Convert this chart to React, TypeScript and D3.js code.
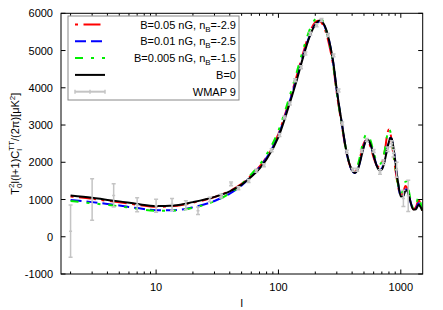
import React from 'react';
import * as d3 from 'd3';

// multipole grid shared by the model curves
const ells = [2, 3, 4, 5, 7, 10, 14, 20, 30, 40, 50, 60, 70, 80, 100, 120, 140, 160, 180, 200, 210, 220, 230, 240, 260, 280, 300, 330, 360, 400, 420, 450, 480, 500, 520, 540, 570, 600, 640, 670, 700, 740, 780, 800, 820, 840, 870, 900, 950, 1000, 1050, 1090, 1120, 1160, 1200, 1270, 1330, 1400, 1450, 1500];

const clB005 = [1080, 1020, 965, 925, 860, 805, 825, 915, 1065, 1230, 1420, 1650, 1880, 2140, 2760, 3550, 4280, 4960, 5480, 5760, 5800, 5780, 5700, 5560, 5150, 4600, 3850, 2980, 2250, 1790, 1740, 1920, 2320, 2520, 2590, 2560, 2380, 2120, 1900, 1880, 1960, 2300, 2800, 2880, 2800, 2600, 2200, 1850, 1350, 1120, 1200, 1360, 1330, 1150, 940, 740, 800, 980, 880, 700];
const clB001 = [990, 930, 880, 840, 770, 715, 715, 790, 960, 1160, 1380, 1620, 1860, 2120, 2730, 3500, 4220, 4890, 5400, 5700, 5760, 5790, 5750, 5630, 5250, 4680, 3920, 3030, 2270, 1770, 1715, 1860, 2220, 2450, 2590, 2610, 2460, 2190, 1890, 1800, 1830, 2080, 2430, 2580, 2660, 2630, 2380, 2030, 1440, 1090, 1110, 1270, 1270, 1130, 940, 730, 760, 900, 820, 720];
const clB0005 = [960, 900, 855, 820, 750, 700, 705, 780, 955, 1170, 1410, 1680, 1930, 2210, 2850, 3640, 4380, 5050, 5560, 5840, 5890, 5880, 5800, 5650, 5220, 4640, 3870, 3000, 2280, 1820, 1780, 1980, 2400, 2620, 2740, 2720, 2550, 2260, 2010, 1950, 2010, 2330, 2780, 2890, 2830, 2650, 2260, 1900, 1400, 1170, 1270, 1480, 1480, 1260, 1000, 760, 850, 1070, 920, 640];
const clB0 = [1110, 1050, 990, 950, 880, 825, 840, 930, 1070, 1220, 1400, 1610, 1830, 2080, 2680, 3450, 4170, 4850, 5380, 5700, 5780, 5810, 5760, 5650, 5260, 4700, 3930, 3040, 2280, 1780, 1715, 1850, 2200, 2430, 2580, 2600, 2450, 2180, 1880, 1790, 1810, 2050, 2400, 2550, 2650, 2640, 2400, 2050, 1450, 1080, 1090, 1240, 1250, 1120, 940, 730, 740, 860, 800, 700];

// WMAP 9 binned points
const wmapL = [2, 3, 4.5, 7, 10, 13.5, 17.5, 22, 27.5, 34, 41, 47, 57, 66, 76, 88, 102, 112, 124, 137, 153, 166, 182, 205, 225, 254, 282, 310, 332, 362, 405, 440, 480, 527, 600, 676, 720, 780, 843, 871, 925, 1050, 1150];
const wmapD = [150, 1000, 1110, 860, 830, 870, 850, 700, 1000, 1090, 1420, 1300, 1500, 1770, 1920, 2320, 2730, 3200, 3580, 4200, 4550, 4920, 5450, 5680, 5820, 5420, 4870, 3930, 3040, 2280, 1800, 1800, 2300, 2600, 2300, 1740, 2000, 2350, 2500, 2240, 1800, 1030, 1100];
const wmapErr = [700, 560, 310, 190, 175, 155, 115, 100, 60, 50, 50, 40, 40, 40, 40, 40, 40, 40, 40, 40, 40, 40, 40, 40, 40, 40, 40, 40, 40, 40, 40, 40, 40, 40, 40, 60, 60, 60, 80, 100, 200, 220, 420];

const yTicks = [-1000, 0, 1000, 2000, 3000, 4000, 5000, 6000];
const xTickLabels = [10, 100, 1000];

const series = [
  { name: 'B=0.05 nG, n', sub: 'B', rest: '=-2.9', values: clB005, color: '#ff0000', dash: '3,5.5,17,5.5' },
  { name: 'B=0.01 nG, n', sub: 'B', rest: '=-2.5', values: clB001, color: '#0000ff', dash: '11,5' },
  { name: 'B=0.005 nG, n', sub: 'B', rest: '=-1.5', values: clB0005, color: '#00ee00', dash: '8,8,3,8,3,8' },
  { name: 'B=0', sub: '', rest: '', values: clB0, color: '#000000', dash: '' },
];

const font = '"Liberation Sans", Arial, Helvetica, sans-serif';

export default function App() {
  const W = 443;
  const H = 310;
  const left = 61, right = 422.7, top = 13.3, bottom = 274;

  const x = d3.scaleLog().domain([1.67, 1510]).range([left, right]);
  const y = d3.scaleLinear().domain([-1000, 6000]).range([bottom, top]);

  const line = d3.line<number>()
    .x((_, i) => x(ells[i]))
    .y(d => y(d))
    .curve(d3.curveMonotoneX);

  // minor ticks 2..9 per decade inside the domain
  const minor: number[] = [];
  [1, 10, 100, 1000].forEach(dec => {
    for (let k = 2; k <= 9; k++) {
      const v = dec * k;
      if (v > 1.67 && v < 1510) minor.push(v);
    }
  });

  const legendY = [24.5, 41.3, 58.1, 74.9, 91.7];
  const gray = '#c4c4c4';

  return (
    <svg width={W} height={H} style={{ position: 'absolute', left: 0, top: 0, background: '#fff' }}
      fontFamily={font}>
      <defs>
        <clipPath id="plot">
          <rect x={left} y={top} width={right - left} height={bottom - top} />
        </clipPath>
      </defs>

      {/* curves */}
      <g clipPath="url(#plot)" fill="none">
        {series.map(s => (
          <path key={s.name + s.rest} d={line(s.values) || ''} stroke={s.color} strokeWidth={2}
            strokeDasharray={s.dash || undefined} />
        ))}
        {/* WMAP error bars */}
        {wmapL.map((l, i) => {
          const cx = x(l);
          const y0 = y(wmapD[i] - wmapErr[i]);
          const y1 = y(wmapD[i] + wmapErr[i]);
          return (
            <g key={'w' + i} stroke={gray} strokeWidth={1.5}>
              <line x1={cx} x2={cx} y1={y0} y2={y1} />
              <line x1={cx - 2} x2={cx + 2} y1={y0} y2={y0} />
              <line x1={cx - 2} x2={cx + 2} y1={y1} y2={y1} />
              <line x1={cx - 1.5} x2={cx + 1.5} y1={y(wmapD[i])} y2={y(wmapD[i])} />
            </g>
          );
        })}
      </g>

      {/* frame */}
      <rect x={left} y={top} width={right - left} height={bottom - top} fill="none" stroke="#000" strokeWidth={1} />

      {/* y ticks */}
      {yTicks.map(t => (
        <g key={'y' + t}>
          <line x1={left} x2={left + 4.5} y1={y(t)} y2={y(t)} stroke="#000" />
          <line x1={right} x2={right - 4.5} y1={y(t)} y2={y(t)} stroke="#000" />
          <text x={left - 8} y={y(t) + 4} fontSize={11} textAnchor="end" fill="#000">{t}</text>
        </g>
      ))}

      {/* x ticks */}
      {xTickLabels.map(t => (
        <g key={'x' + t}>
          <line x1={x(t)} x2={x(t)} y1={bottom} y2={bottom - 4.5} stroke="#000" />
          <line x1={x(t)} x2={x(t)} y1={top} y2={top + 4.5} stroke="#000" />
          <text x={x(t)} y={291} fontSize={11} textAnchor="middle" fill="#000">{t}</text>
        </g>
      ))}
      {minor.map(t => (
        <g key={'m' + t}>
          <line x1={x(t)} x2={x(t)} y1={bottom} y2={bottom - 2.5} stroke="#000" />
          <line x1={x(t)} x2={x(t)} y1={top} y2={top + 2.5} stroke="#000" />
        </g>
      ))}

      {/* axis titles */}
      <text x={(left + right) / 2} y={307} fontSize={11} textAnchor="middle">l</text>
      <text transform={`translate(18.5,${(top + bottom) / 2}) rotate(-90)`} fontSize={11} textAnchor="middle">
        T
        <tspan fontSize={8} dy={3}>0</tspan>
        <tspan fontSize={8} dx={-4.4} dy={-8}>2</tspan>
        <tspan dy={5}>l(l+1)C</tspan>
        <tspan fontSize={8} dy={3}>l</tspan>
        <tspan fontSize={8} dx={-1.8} dy={-8}>TT</tspan>
        <tspan dy={5}>/(2π)[μK</tspan>
        <tspan fontSize={8} dy={-4}>2</tspan>
        <tspan dy={4}>]</tspan>
      </text>

      {/* legend */}
      <rect x={68} y={16} width={171} height={84} fill="#fff" stroke="#888" strokeWidth={1} />
      {series.map((s, i) => (
        <g key={'l' + i}>
          <line x1={75} x2={105} y1={legendY[i]} y2={legendY[i]} stroke={s.color} strokeWidth={2}
            strokeDasharray={s.dash || undefined} />
          <text x={236} y={legendY[i] + 4} fontSize={11} textAnchor="end">
            {s.name}
            {s.sub && <tspan fontSize={8} dy={3}>{s.sub}</tspan>}
            {s.rest && <tspan dy={-3}>{s.rest}</tspan>}
          </text>
        </g>
      ))}
      <g stroke={gray} strokeWidth={1.5}>
        <line x1={75} x2={105} y1={legendY[4]} y2={legendY[4]} strokeWidth={2} />
        {[75, 90, 105].map(v => (
          <line key={'lt' + v} x1={v} x2={v} y1={legendY[4] - 2} y2={legendY[4] + 2} />
        ))}
      </g>
      <text x={236} y={legendY[4] + 4} fontSize={11} textAnchor="end">WMAP 9</text>
    </svg>
  );
}
